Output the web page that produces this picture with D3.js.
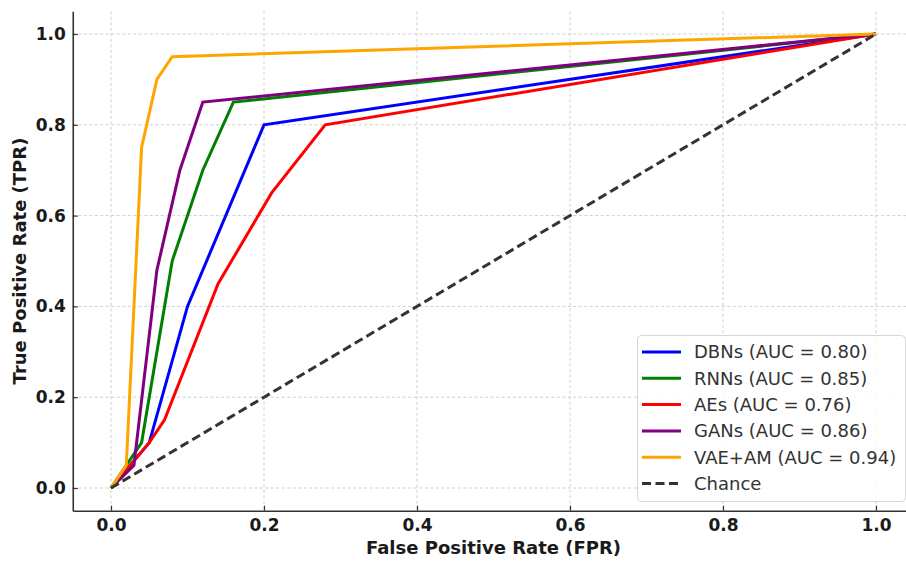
<!DOCTYPE html>
<html>
<head>
    <meta charset="UTF-8" />
    <title>ROC Curves</title>
    <script src="https://cdn.jsdelivr.net/npm/d3@7"></script>
    <style>
	body { margin: 0; background: white; }
	svg { display: block; font-family: "DejaVu Sans", sans-serif; }
 	</style>
</head>
<body>
	<div id="chart"></div>
<script type="text/javascript">

	// model names and curve points
	var models = ["DBNs", "RNNs", "AEs", "GANs", "VAE+AM"]
	var aucs = [0.80, 0.85, 0.76, 0.86, 0.94]
	var colors = ["blue", "green", "red", "purple", "orange"]

	var fpr_dbn = [0, 0.05, 0.10, 0.20, 1]
	var tpr_dbn = [0, 0.10, 0.40, 0.80, 1]
	var fpr_rnn = [0, 0.04, 0.08, 0.12, 0.16, 1]
	var tpr_rnn = [0, 0.10, 0.50, 0.70, 0.85, 1]
	var fpr_ae = [0, 0.05, 0.07, 0.14, 0.21, 0.28, 1]
	var tpr_ae = [0, 0.10, 0.15, 0.45, 0.65, 0.80, 1]
	var fpr_gan = [0, 0.03, 0.06, 0.09, 0.12, 1]
	var tpr_gan = [0, 0.05, 0.48, 0.70, 0.85, 1]
	var fpr_vae = [0, 0.02, 0.04, 0.06, 0.08, 1]
	var tpr_vae = [0, 0.05, 0.75, 0.90, 0.95, 1]
	var chance = [0, 1]

	var ticks = [0, 0.2, 0.4, 0.6, 0.8, 1.0]

	var fprs = [fpr_dbn, fpr_rnn, fpr_ae, fpr_gan, fpr_vae]
	var tprs = [tpr_dbn, tpr_rnn, tpr_ae, tpr_gan, tpr_vae]

	var W = 906, H = 563

	var svg = d3.select("div#chart")
		.append("svg")
			.attr("width", W)
			.attr("height", H)

	// scales (matplotlib style 5% padding)
	var x = d3.scaleLinear()
		.domain([-0.05, 1.05])
		.range([72.75, 914.25])
	var y = d3.scaleLinear()
		.domain([-0.05, 1.05])
		.range([510.7, 11.3])

	// grid
	var grid = svg.append("g")
	grid.selectAll("line.gx")
		.data(ticks)
		.enter()
		.append("line")
			.attr("x1", function(d){ return x(d) })
			.attr("x2", function(d){ return x(d) })
			.attr("y1", y(1.05))
			.attr("y2", y(-0.05))
			.attr("stroke", "#cfcfcf")
			.attr("stroke-width", 1)
			.attr("stroke-dasharray", "3,2.5")
	grid.selectAll("line.gy")
		.data(ticks)
		.enter()
		.append("line")
			.attr("y1", function(d){ return y(d) })
			.attr("y2", function(d){ return y(d) })
			.attr("x1", x(-0.05))
			.attr("x2", x(1.05))
			.attr("stroke", "#cfcfcf")
			.attr("stroke-width", 1)
			.attr("stroke-dasharray", "3,2.5")

	// axes
	var xAxis = svg.append("g")
		.attr("transform", "translate(0," + y(-0.05) + ")")
		.call(d3.axisBottom(x).tickValues(ticks).tickFormat(d3.format(".1f")).tickSizeInner(-5).tickSizeOuter(0).tickPadding(8))
	var yAxis = svg.append("g")
		.attr("transform", "translate(" + x(-0.05) + ",0)")
		.call(d3.axisLeft(y).tickValues(ticks).tickFormat(d3.format(".1f")).tickSizeInner(-5).tickSizeOuter(0).tickPadding(7))

	svg.selectAll(".domain").attr("stroke", "#333").attr("stroke-width", 1.6)
	svg.selectAll(".tick line").attr("stroke", "#333").attr("stroke-width", 1.2)
	svg.selectAll(".tick text")
		.attr("font-family", "DejaVu Sans")
		.attr("font-weight", "bold")
		.attr("font-size", "17px")
		.attr("fill", "#1a1a1a")
	xAxis.selectAll(".tick text").attr("dy", "0.72em")

	// axis titles
	svg.append("text")
		.attr("x", x(0.5))
		.attr("y", 554)
		.attr("text-anchor", "middle")
		.attr("font-weight", "bold")
		.attr("font-size", "18px")
		.attr("fill", "#1a1a1a")
		.text("False Positive Rate (FPR)")
	svg.append("text")
		.attr("transform", "translate(26," + y(0.5) + ")rotate(-90)")
		.attr("text-anchor", "middle")
		.attr("font-weight", "bold")
		.attr("font-size", "18px")
		.attr("fill", "#1a1a1a")
		.text("True Positive Rate (TPR)")

	// curves
	var line = d3.line()
		.x(function(d){ return x(d[0]) })
		.y(function(d){ return y(d[1]) })

	var curves = svg.append("g")
	models.forEach(function(m, i){
		var pts = fprs[i].map(function(f, j){ return [f, tprs[i][j]] })
		curves.append("path")
			.datum(pts)
			.attr("d", line)
			.attr("fill", "none")
			.attr("stroke", colors[i])
			.attr("stroke-width", 3)
			.attr("stroke-linejoin", "miter")
	})
	curves.append("path")
		.datum(chance.map(function(c){ return [c, c] }))
		.attr("d", line)
		.attr("fill", "none")
		.attr("stroke", "#333")
		.attr("stroke-width", 3)
		.attr("stroke-dasharray", "9,4.5")

	// legend
	var legend = svg.append("g")
	legend.append("rect")
		.attr("x", 637.5)
		.attr("y", 335.5)
		.attr("width", 268)
		.attr("height", 166)
		.attr("rx", 4)
		.attr("fill", "white")
		.attr("fill-opacity", 0.85)
		.attr("stroke", "#d6d6d6")
		.attr("stroke-width", 1)

	var labels = models.map(function(m, i){ return m + " (AUC = " + aucs[i].toFixed(2) + ")" })
	labels.push("Chance")
	var rowY = function(i){ return 352 + i * 26.3 }

	legend.selectAll("line.h")
		.data(labels)
		.enter()
		.append("line")
			.attr("x1", 642)
			.attr("x2", 681)
			.attr("y1", function(d, i){ return rowY(i) })
			.attr("y2", function(d, i){ return rowY(i) })
			.attr("stroke", function(d, i){ return i < 5 ? colors[i] : "#333" })
			.attr("stroke-width", 3)
			.attr("stroke-dasharray", function(d, i){ return i < 5 ? null : "9,4.5" })
	legend.selectAll("text")
		.data(labels)
		.enter()
		.append("text")
			.attr("x", 694)
			.attr("y", function(d, i){ return rowY(i) })
			.attr("dy", "0.36em")
			.attr("font-size", "18px")
			.attr("fill", "#333")
			.text(function(d){ return d })

</script>
</body>
</html>
